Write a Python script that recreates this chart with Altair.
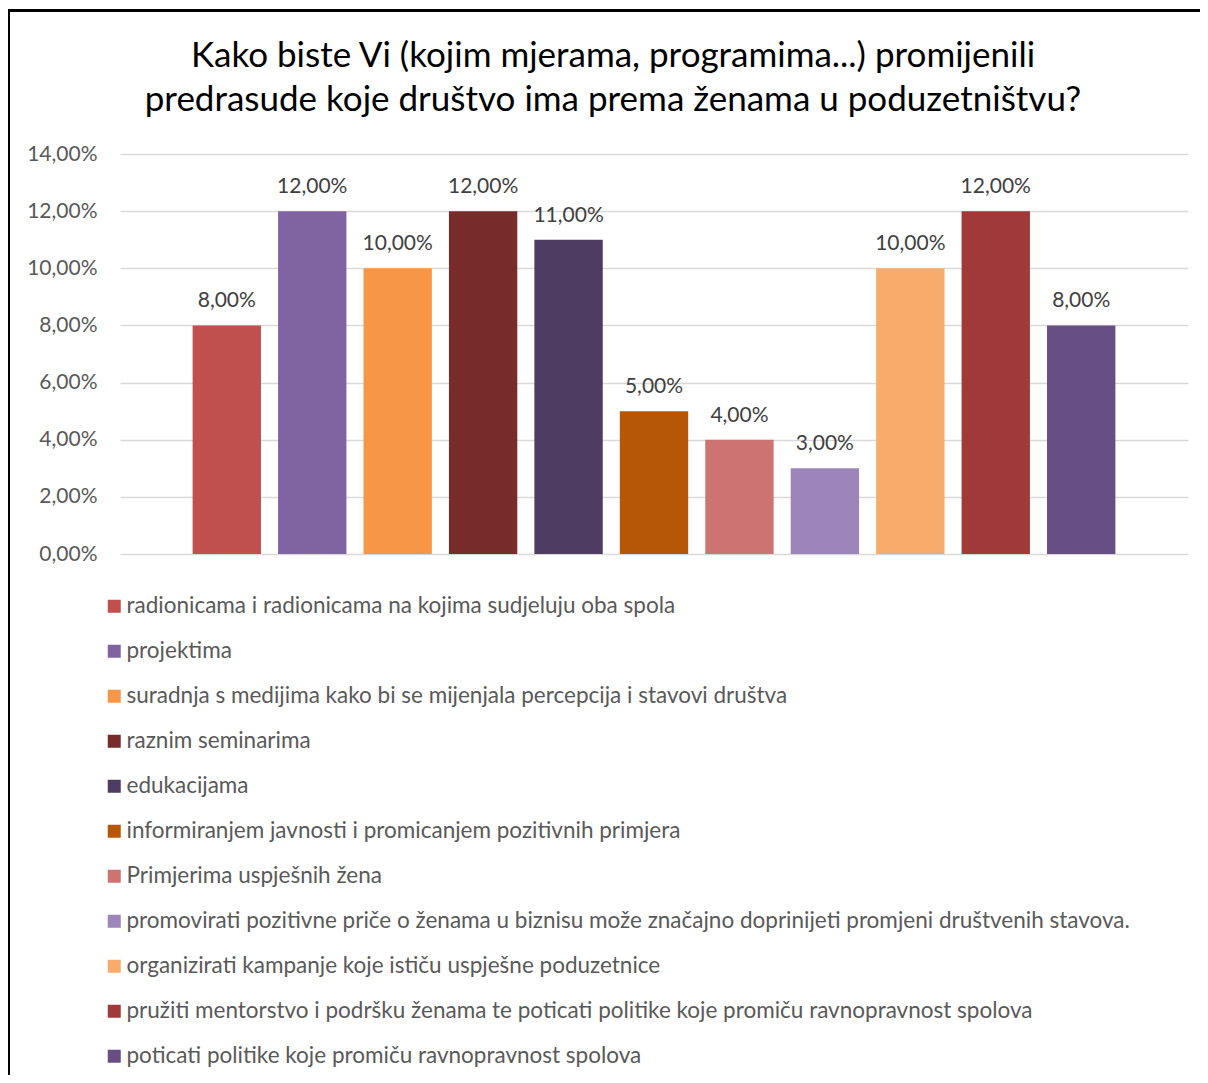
import altair as alt
import pandas as pd

categories = [
    "radionicama i radionicama na kojima sudjeluju oba spola",
    "projektima",
    "suradnja s medijima kako bi se mijenjala percepcija i stavovi društva",
    "raznim seminarima",
    "edukacijama",
    "informiranjem javnosti i promicanjem pozitivnih primjera",
    "Primjerima uspješnih žena",
    "promovirati pozitivne priče o ženama u biznisu može značajno doprinijeti promjeni društvenih stavova.",
    "organizirati kampanje koje ističu uspješne poduzetnice",
    "pružiti mentorstvo i podršku ženama te poticati politike koje promiču ravnopravnost spolova",
    "poticati politike koje promiču ravnopravnost spolova",
]
values = [8, 12, 10, 12, 11, 5, 4, 3, 10, 12, 8]
colors = ["#C0504D", "#8064A2", "#F79646", "#772C2A", "#4D3B62", "#B65708",
          "#CD7371", "#9C85B8", "#F9AB6B", "#A03A38", "#674F84"]
title_text = ("Kako biste Vi (kojim mjerama, programima...) promijenili\n"
              "predrasude koje društvo ima prema ženama u poduzetništvu?")

FONT = "Lato"

df = pd.DataFrame({
    "cat": categories,
    "value": values,
    "label": [f"{v:.2f}".replace(".", ",") + "%" for v in values],
})

x_enc = alt.X("cat:N", sort=categories, axis=None,
              scale=alt.Scale(paddingInner=0.2, paddingOuter=0.85))

bars = alt.Chart(df).mark_bar().encode(
    x=x_enc,
    y=alt.Y("value:Q",
            scale=alt.Scale(domain=[0, 14]),
            axis=alt.Axis(values=[0, 2, 4, 6, 8, 10, 12, 14], title=None,
                          labelExpr="replace(format(datum.value, '.2f'), '.', ',') + '%'",
                          domain=False, ticks=False, labelPadding=23,
                          labelFont=FONT, labelFontSize=21, labelColor="#595959",
                          gridColor="#D9D9D9", gridWidth=1.5)),
    color=alt.Color("cat:N", sort=categories,
                    scale=alt.Scale(domain=categories, range=colors),
                    legend=alt.Legend(orient="none", legendX=-17, legendY=441,
                                      direction="vertical", title=None,
                                      symbolType="square", symbolSize=169,
                                      symbolStrokeWidth=0, labelFont=FONT,
                                      labelFontSize=22.5, labelColor="#595959",
                                      rowPadding=22, labelOffset=1,
                                      labelLimit=2000, padding=0)),
)

labels = alt.Chart(df).mark_text(baseline="alphabetic", dy=-18, font=FONT,
                                 fontSize=21, color="#404040").encode(
    x=x_enc,
    y="value:Q",
    text="label:N",
)

title = alt.Chart(pd.DataFrame({"t": [title_text]})).mark_text(
    font=FONT, fontSize=35, color="#000000", align="center",
    baseline="alphabetic", lineBreak="\n", lineHeight=44,
).encode(
    x=alt.value(493), y=alt.value(-87), text="t:N",
)

border = alt.Chart(pd.DataFrame({"a": [0]})).mark_rect(
    filled=False, stroke="black", strokeWidth=3
).encode(
    x=alt.value(-111.5), x2=alt.value(1200),
    y=alt.value(-143.5), y2=alt.value(1000),
)

chart = alt.layer(border, title, bars, labels).properties(
    width=1068, height=400,
    padding={"left": 112, "top": 146, "right": 12, "bottom": 521},
    autosize=alt.AutoSizeParams(type="none"),
).configure_view(stroke=None)

chart.save("out.html", embed_options={"renderer": "svg", "actions": False})
